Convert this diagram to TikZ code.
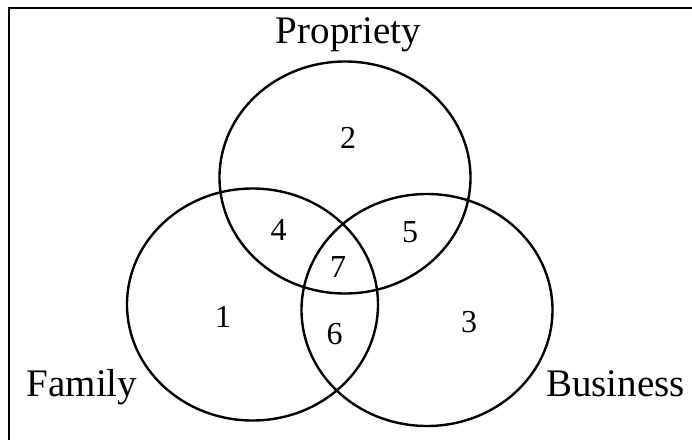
\documentclass[tikz,border=0pt]{standalone}
\usepackage{fontspec}
\setmainfont{Liberation Serif}
\begin{document}
\begin{tikzpicture}[x=1pt,y=-1pt,
  setc/.style={draw=black,line width=2.4pt},
  frame/.style={draw=black,line width=2.6pt},
  num/.style={inner sep=0pt,font=\fontsize{32}{32}\selectfont},
  lab/.style={inner sep=0pt,anchor=base,font=\fontsize{39}{39}\selectfont}]
\useasboundingbox (0,0) rectangle (692,439);
\fill[white] (0,0) rectangle (692,439);
\coordinate (fb) at (9,450);
\coordinate (fc) at (9,8);
\coordinate (fr) at (700,8);
\draw[frame] (fb) -- (fc) -- (fr);
\draw[setc] (345,177.5) ellipse [x radius=125.5, y radius=116];
\draw[setc] (252.5,304.5) ellipse [x radius=125.5, y radius=116];
\draw[setc] (427,310) ellipse [x radius=125.5, y radius=116];
\node[num] (n2) at (348,138) {2};
\node[num] (n4) at (278.5,230) {4};
\node[num] (n5) at (410,232) {5};
\node[num] (n7) at (338,267) {7};
\node[num] (n1) at (223,317) {1};
\node[num] (n6) at (334.5,334) {6};
\node[num] (n3) at (469,322) {3};
\node[lab] (lp) at (348.5,43) {Propriety};
\node[lab] (lf) at (82,396) {Family};
\node[lab] (lb) at (615.5,396) {Business};
\end{tikzpicture}
\end{document}
